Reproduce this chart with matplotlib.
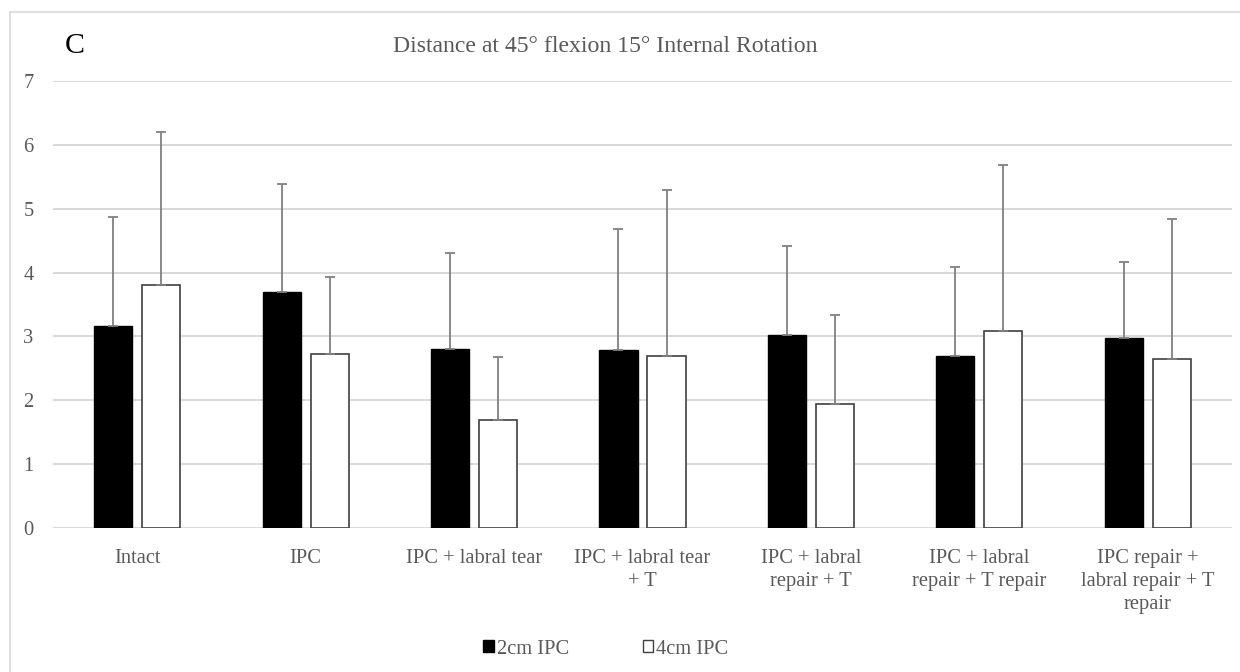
import numpy as np
import matplotlib.pyplot as plt
from matplotlib.patches import Patch, Rectangle

# ------------------ Datos ------------------
categorias = ["Intact", "IPC", "IPC + labral tear", "IPC + labral tear\n+ T",
              "IPC + labral\nrepair + T", "IPC + labral\nrepair + T repair",
              "IPC repair +\nlabral repair + T\nrepair"]
media_2cm = [3.17, 3.70, 2.81, 2.79, 3.03, 2.69, 2.98]
sd_2cm = [1.70, 1.69, 1.49, 1.89, 1.39, 1.39, 1.19]
media_4cm = [3.81, 2.73, 1.69, 2.70, 1.94, 3.08, 2.65]
sd_4cm = [2.39, 1.20, 0.99, 2.59, 1.40, 2.61, 2.19]

gris_texto = "#595959"
plt.rcParams['font.family'] = ['Liberation Serif', 'DejaVu Serif']

fig = plt.figure(figsize=(12.4, 6.72), dpi=100)
ax = fig.add_axes([53/1240, (672-528)/672, 1179/1240, 447/672])

x = np.arange(len(categorias))
ancho = 0.226
desp = 0.1425

err_kw = dict(ecolor="#808080", elinewidth=1.3, capsize=3.5, capthick=1.3)
ax.bar(x - desp, media_2cm, ancho, color="black", edgecolor="black", linewidth=1.0,
       yerr=[np.zeros(len(x)), sd_2cm], error_kw=err_kw, zorder=3)
ax.bar(x + desp, media_4cm, ancho, color="white", edgecolor="#404040", linewidth=1.2,
       yerr=[np.zeros(len(x)), sd_4cm], error_kw=err_kw, zorder=3)

ax.set_xlim(-0.5, len(x) - 0.5)
ax.set_ylim(0, 7)
ax.set_yticks(range(0, 8))
ax.yaxis.grid(True, color="#d9d9d9", linewidth=1.4, zorder=0)
ax.set_axisbelow(True)
for s in ax.spines.values():
    s.set_visible(False)

ax.set_xticks(x)
ax.set_xticklabels(categorias, linespacing=1.3)
ax.tick_params(axis="x", length=0, pad=15, labelsize=14.8, labelcolor=gris_texto)
ax.tick_params(axis="y", length=0, pad=14, labelsize=14.8, labelcolor=gris_texto)

fig.text(605/1240, 1 - 47/672, "Distance at 45° flexion 15° Internal Rotation",
         ha="center", va="center", fontsize=17.1, color=gris_texto)
fig.text(65/1240, 1 - 46/672, "C", ha="left", va="center", fontsize=21.5, color="black")

# Marco del gráfico
fig.patches.append(Rectangle((10/1240, -0.1), 1.2, 1 - 12/672 + 0.1,
                             transform=fig.transFigure, fill=False,
                             edgecolor="#d9d9d9", linewidth=1.2))

handles = [Patch(facecolor="black", edgecolor="black", label="2cm IPC"),
           Patch(facecolor="white", edgecolor="#404040", label="4cm IPC")]
fig.legend(handles=handles, loc="center", bbox_to_anchor=(606/1240, 1 - 649/672),
           ncol=2, frameon=False, fontsize=14.8, labelcolor=gris_texto,
           handlelength=0.5, handleheight=0.5, handletextpad=0.15, columnspacing=3.6)

fig.savefig("out.png", dpi=100)
